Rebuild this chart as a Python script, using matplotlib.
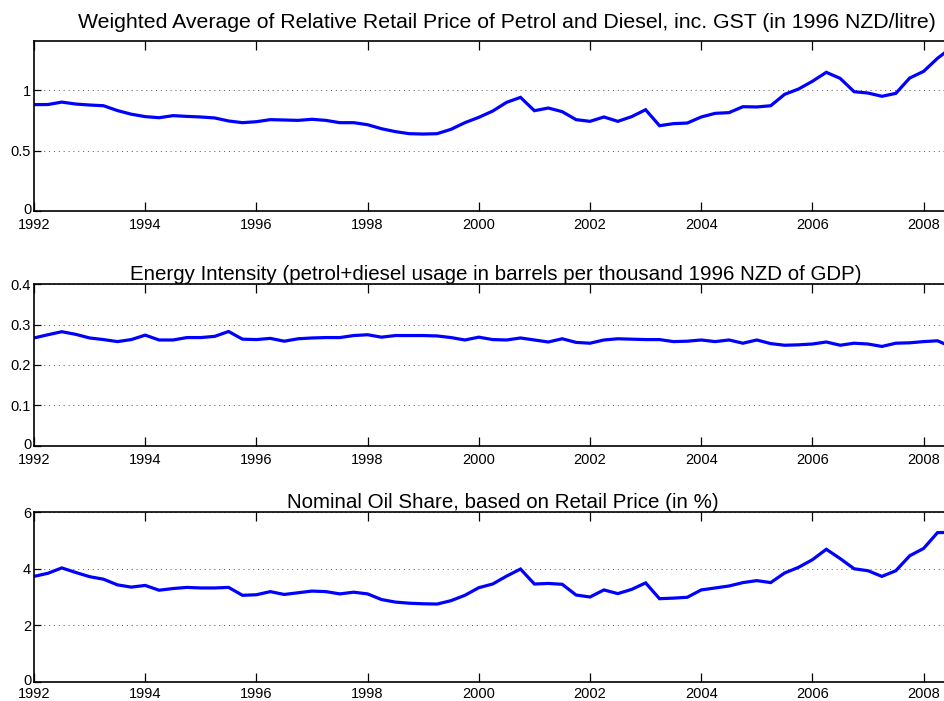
import numpy as np
import matplotlib
matplotlib.use("Agg")
import matplotlib.pyplot as plt
import matplotlib.transforms as mtransforms

plt.rcParams['font.family'] = ['Liberation Sans', 'DejaVu Sans']

# quarterly dates, 1992Q1 .. 2008Q3
quarters = np.arange(1992.0, 2008.51, 0.25)

price = [0.879, 0.88, 0.90, 0.884, 0.876, 0.87, 0.83, 0.80, 0.78, 0.771,
         0.788, 0.782, 0.777, 0.769, 0.744, 0.73, 0.738, 0.755, 0.752, 0.749,
         0.758, 0.749, 0.73, 0.73, 0.713, 0.68, 0.656, 0.639, 0.636, 0.639,
         0.675, 0.73, 0.774, 0.826, 0.898, 0.939, 0.829, 0.851, 0.821, 0.755,
         0.741, 0.777, 0.741, 0.78, 0.837, 0.705, 0.722, 0.727, 0.777, 0.807,
         0.813, 0.862, 0.86, 0.87, 0.964, 1.008, 1.072, 1.146, 1.096, 0.986,
         0.975, 0.948, 0.972, 1.099, 1.154, 1.262, 1.35]

intensity = [0.267, 0.275, 0.2825, 0.276, 0.267, 0.263, 0.258, 0.263, 0.274, 0.262,
             0.262, 0.268, 0.268, 0.271, 0.283, 0.264, 0.263, 0.266, 0.259, 0.265,
             0.267, 0.268, 0.268, 0.273, 0.275, 0.269, 0.273, 0.273, 0.273, 0.272,
             0.268, 0.262, 0.269, 0.263, 0.262, 0.267, 0.262, 0.257, 0.265, 0.256,
             0.254, 0.262, 0.265, 0.264, 0.263, 0.263, 0.258, 0.259, 0.262, 0.258,
             0.262, 0.254, 0.262, 0.253, 0.249, 0.25, 0.252, 0.257, 0.249, 0.254,
             0.252, 0.246, 0.254, 0.255, 0.258, 0.26, 0.245]

oil_share = [3.73, 3.84, 4.03, 3.87, 3.72, 3.63, 3.43, 3.35, 3.41, 3.24,
             3.30, 3.34, 3.32, 3.32, 3.34, 3.06, 3.08, 3.19, 3.09, 3.15,
             3.21, 3.19, 3.11, 3.17, 3.11, 2.91, 2.82, 2.78, 2.76, 2.75,
             2.87, 3.06, 3.33, 3.46, 3.74, 3.99, 3.46, 3.48, 3.45, 3.07,
             3.00, 3.25, 3.12, 3.27, 3.50, 2.94, 2.96, 2.99, 3.25, 3.32,
             3.39, 3.51, 3.58, 3.51, 3.85, 4.05, 4.32, 4.69, 4.36, 4.00,
             3.93, 3.73, 3.93, 4.46, 4.72, 5.28, 5.29]

titles = ["Weighted Average of Relative Retail Price of Petrol and Diesel, inc. GST (in 1996 NZD/litre)",
          "Energy Intensity (petrol+diesel usage in barrels per thousand 1996 NZD of GDP)",
          "Nominal Oil Share, based on Retail Price (in %)"]
ylims = [(0, 1.405), (0, 0.4), (0, 6)]
yticks = [[0, 0.5, 1], [0, 0.1, 0.2, 0.3, 0.4], [0, 2, 4, 6]]
ytick_labels = [["0", "0.5", "1"], ["0", "0.1", "0.2", "0.3", "0.4"], ["0", "2", "4", "6"]]
xticks = list(range(1992, 2009, 2))

W, H = 944, 701
fig = plt.figure(figsize=(W / 100, H / 100), dpi=100)

# axes boxes in pixels: (left, top, bottom); the right side runs off the figure
boxes = [(34, 41, 211), (34, 284.3, 445.7), (34, 512.3, 681.7)]
title_pads = [9, 3, 3]
title_x = [0.52, 0.507, 0.515]
title_sizes = [15.3, 14.8, 14.8]
xpads = [5, 5, 3.8]
series = [price, intensity, oil_share]

# small upward nudge for the "0" labels so they clear the year below
lift = mtransforms.ScaledTranslation(0, 2.5 / 100, fig.dpi_scale_trans)

for i, (l, t, b) in enumerate(boxes):
    ax = fig.add_axes([l / W, (H - b) / H, 1 - l / W, (b - t) / H])
    ax.plot(quarters, series[i], color='#0000ff', linewidth=2.3, solid_joinstyle='miter')
    ax.set_xlim(1992, 1992 + (W - l) / 55.6)
    ax.set_ylim(*ylims[i])
    ax.set_xticks(xticks)
    ax.set_xticklabels([str(x) for x in xticks])
    ax.set_yticks(yticks[i])
    ax.set_yticklabels(ytick_labels[i])
    ax.grid(axis='y', linestyle=(0, (1, 4)), color='#555555', linewidth=0.7)
    ax.tick_params(direction='in', length=6.5, width=0.9, top=True, right=False,
                   labelsize=10.5)
    ax.tick_params(axis='x', pad=xpads[i])
    ax.tick_params(axis='y', length=5, pad=2)
    ax.spines['right'].set_visible(False)
    for s in ['left', 'bottom', 'top']:
        ax.spines[s].set_linewidth(1.2)
    ax.set_title(titles[i], fontsize=title_sizes[i], pad=title_pads[i], x=title_x[i])
    zero_lab = ax.get_yticklabels()[0]
    zero_lab.set_transform(zero_lab.get_transform() + lift)

fig.savefig("out.png", dpi=100)
